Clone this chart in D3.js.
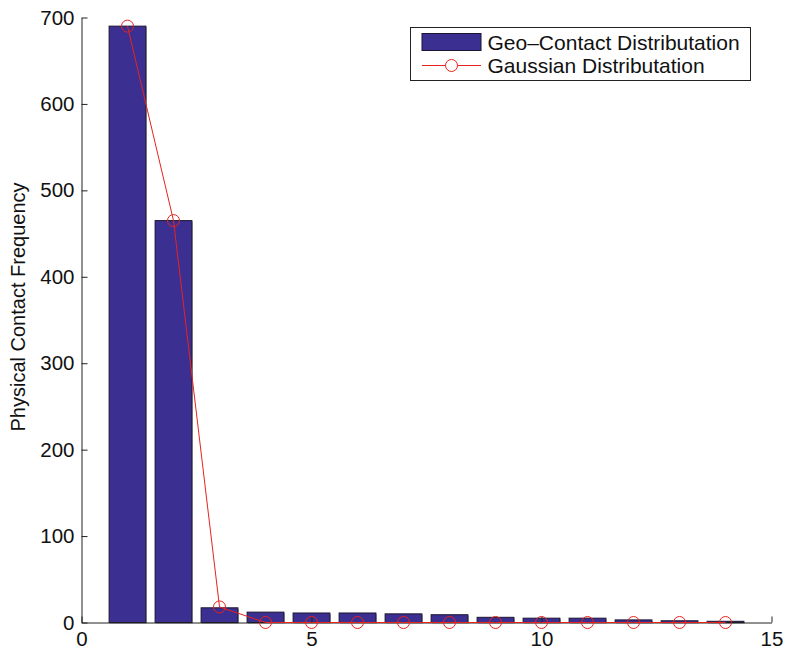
<!DOCTYPE html>
<html>
<head>
<meta charset="utf-8">
<script src="https://cdn.jsdelivr.net/npm/d3@7"></script>
<style>
  body { margin: 0; background: #fff; }
  svg text { font-family: "Liberation Sans", Arial, Helvetica, sans-serif; fill: #111; }
</style>
</head>
<body>
<div id="chart"></div>
<script>
// bar positions and values
const bins = [1, 2, 3, 4, 5, 6, 7, 8, 9, 10, 11, 12, 13, 14];
const geoContact = [690, 465, 17, 12, 11, 11, 10, 9, 6, 5, 5, 3, 2, 1.4];
const gaussian = [690, 465, 18, 0, 0, 0, 0, 0, 0, 0, 0, 0, 0, 0];
const xTicks = [0, 5, 10, 15];
const yTicks = [0, 100, 200, 300, 400, 500, 600, 700];
const seriesNames = ['Geo\u2013Contact Distributation', 'Gaussian Distributation'];

const width = 786, height = 652;
const margin = {left: 81.5, right: 14.5, top: 17.5, bottom: 29.5};

const svg = d3.select('#chart').append('svg')
    .attr('width', width)
    .attr('height', height);

const x = d3.scaleLinear().domain([0, 15]).range([margin.left, width - margin.right]);
const y = d3.scaleLinear().domain([0, 700]).range([height - margin.bottom, margin.top]);

const barColor = '#3b2f92';
const lineColor = '#e8231f';

// bars (width 0.8 like matlab)
const bw = x(0.8) - x(0);
const bars = svg.append('g');
bars.selectAll('rect.shadow')
    .data(bins)
    .enter().append('rect')
    .attr('class', 'shadow')
    .attr('x', (d, i) => x(d - 0.4) + 1)
    .attr('y', (d, i) => y(geoContact[i]) + 1)
    .attr('width', bw)
    .attr('height', (d, i) => y(0) - y(geoContact[i]))
    .attr('fill', '#aaa');
bars.selectAll('rect.bar')
    .data(bins)
    .enter().append('rect')
    .attr('class', 'bar')
    .attr('x', d => x(d - 0.4))
    .attr('y', (d, i) => y(geoContact[i]))
    .attr('width', bw)
    .attr('height', (d, i) => y(0) - y(geoContact[i]))
    .attr('fill', barColor)
    .attr('stroke', '#1b1530')
    .attr('stroke-width', 1);

// axes, ticks pointing inward
const xAxis = svg.append('g')
    .attr('transform', `translate(0,${y(0)})`)
    .call(d3.axisBottom(x).tickValues(xTicks).tickSize(-6).tickPadding(9).tickSizeOuter(0));
const yAxis = svg.append('g')
    .attr('transform', `translate(${x(0)},0)`)
    .call(d3.axisLeft(y).tickValues(yTicks).tickSize(-6).tickPadding(7).tickSizeOuter(0));
[xAxis, yAxis].forEach(a => {
    a.select('.domain').attr('stroke', '#222');
    a.selectAll('.tick line').attr('stroke', '#222');
    a.selectAll('text').style('font-size', '20.5px').attr('fill', '#111');
});

// gaussian line
const line = d3.line()
    .x(d => x(d[0]))
    .y(d => y(d[1]));
const pts = bins.map((b, i) => [b, gaussian[i]]);
svg.append('path')
    .datum(pts)
    .attr('d', line)
    .attr('fill', 'none')
    .attr('stroke', lineColor)
    .attr('stroke-width', 1);
svg.append('g').selectAll('circle')
    .data(pts)
    .enter().append('circle')
    .attr('cx', d => x(d[0]))
    .attr('cy', d => y(d[1]))
    .attr('r', 6)
    .attr('fill', 'none')
    .attr('stroke', lineColor)
    .attr('stroke-width', 1);

// y label
svg.append('text')
    .attr('transform', `translate(25,307) rotate(-90)`)
    .attr('text-anchor', 'middle')
    .style('font-size', '20px')
    .text('Physical Contact Frequency');

// legend
const lg = svg.append('g').attr('transform', 'translate(410.5,27.5)');
lg.append('rect')
    .attr('width', 340)
    .attr('height', 53)
    .attr('fill', '#fff')
    .attr('stroke', '#222');
lg.append('rect')
    .attr('x', 11.5).attr('y', 6)
    .attr('width', 59).attr('height', 17)
    .attr('fill', barColor)
    .attr('stroke', '#1b1530');
lg.append('line')
    .attr('x1', 11.5).attr('x2', 70.5)
    .attr('y1', 38).attr('y2', 38)
    .attr('stroke', lineColor);
lg.append('circle')
    .attr('cx', 41).attr('cy', 38).attr('r', 6)
    .attr('fill', '#fff').attr('stroke', lineColor);
lg.selectAll('text.lbl')
    .data(seriesNames)
    .enter().append('text')
    .attr('class', 'lbl')
    .attr('x', 77)
    .attr('y', (d, i) => 22 + i * 23)
    .style('font-size', '21px')
    .text(d => d);
</script>
</body>
</html>
